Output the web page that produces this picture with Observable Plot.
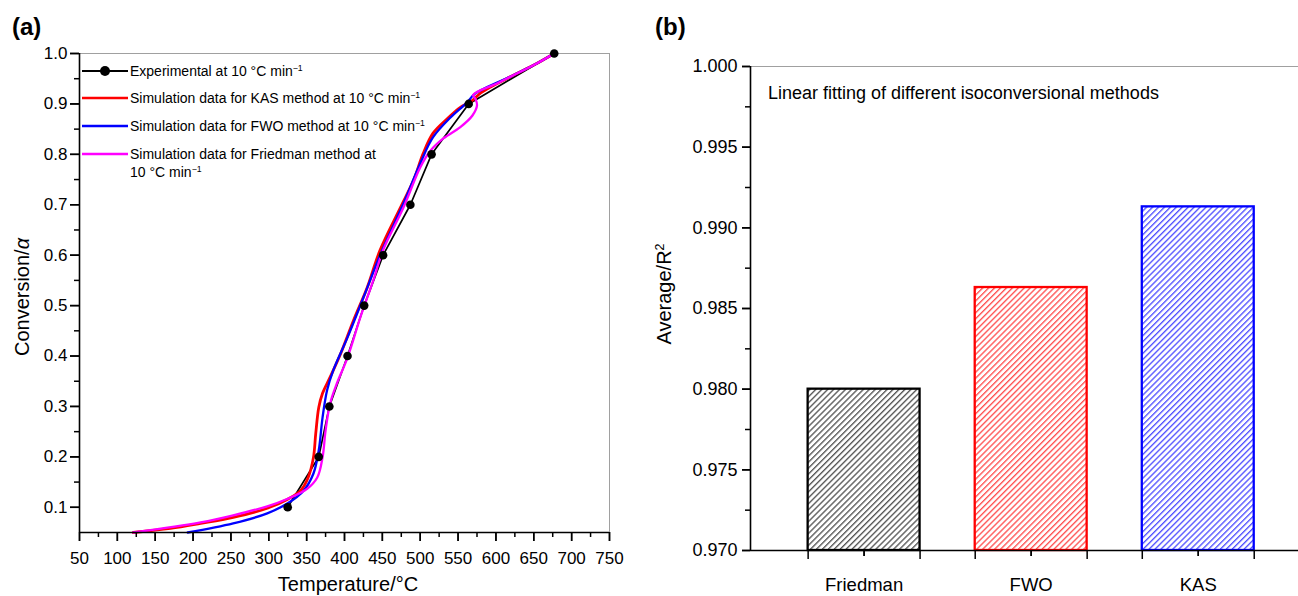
<!DOCTYPE html>
<html>
<head>
<meta charset="utf-8">
<script src="https://cdn.jsdelivr.net/npm/d3@7"></script>
<script src="https://cdn.jsdelivr.net/npm/@observablehq/plot@0.6"></script>
<style>
  html, body { margin: 0; padding: 0; background: #fff; }
  body { font-family: "Liberation Sans", Arial, Helvetica, sans-serif; color: #000; }
  #wrap { position: relative; width: 1298px; height: 596px; overflow: hidden; background: #fff; }
  .panel { position: absolute; top: 0; }
  .panel svg { overflow: visible; }
  .tag { position: absolute; font-weight: bold; font-size: 24px; line-height: 24px; }
  .ttl { position: absolute; white-space: nowrap; font-size: 20px; line-height: 20px; }
  .rot { transform: translate(-50%, -50%) rotate(-90deg); }
  .hcenter { transform: translate(-50%, 0); }
  sup { font-size: 0.62em; line-height: 0; vertical-align: 0.55em; }
  .leg { position: absolute; font-size: 14px; line-height: 18px; white-space: nowrap; }
  .leg svg { position: absolute; left: 0; top: 0; }
  .leg span { position: absolute; left: 48px; top: 0; }
  .note { position: absolute; font-size: 18px; line-height: 18px; white-space: nowrap; }
</style>
</head>
<body>
<div id="wrap">
  <div class="panel" id="pa" style="left:0px;"></div>
  <div class="panel" id="pb" style="left:640px;"></div>
  <div class="tag" style="left:12px;top:15px;">(a)</div>
  <div class="tag" style="left:655px;top:15px;">(b)</div>
  <div class="ttl rot" style="left:22px;top:297px;">Conversion/<i>α</i></div>
  <div class="ttl hcenter" style="left:348px;top:574px;">Temperature/°C</div>
  <div class="ttl rot" style="left:664px;top:294px;">Average/R<sup>2</sup></div>
  <div class="note" style="left:768px;top:84px;">Linear fitting of different isoconversional methods</div>
  <div id="legend"></div>
</div>
<script>
// ---------- Panel (a) data: conversion vs temperature ----------
const expT = [325, 366, 380, 404, 426, 451, 487, 515, 564, 677];
const expA = [0.10, 0.20, 0.30, 0.40, 0.50, 0.60, 0.70, 0.80, 0.90, 1.00];

const kasT = [121, 170, 210, 253, 298, 325, 342, 352, 359, 362, 366, 371, 381, 395, 412, 430, 447, 474, 491, 504, 517, 536, 553, 569, 580, 623, 650, 677];
const kasA = [0.050, 0.058, 0.068, 0.080, 0.098, 0.116, 0.133, 0.159, 0.199, 0.246, 0.298, 0.326, 0.358, 0.405, 0.471, 0.536, 0.610, 0.695, 0.748, 0.802, 0.842, 0.871, 0.893, 0.907, 0.922, 0.957, 0.977, 1.000];

const fwoT = [193, 253, 298, 325, 346, 359, 366, 371, 377, 385, 404, 425, 447, 478, 500, 517, 540, 562, 572, 623, 650, 677];
const fwoA = [0.050, 0.068, 0.088, 0.108, 0.133, 0.167, 0.213, 0.278, 0.332, 0.371, 0.437, 0.516, 0.600, 0.703, 0.782, 0.834, 0.873, 0.903, 0.920, 0.957, 0.977, 1.000];

const friT = [121, 210, 253, 298, 325, 351, 364, 371, 375, 381, 390, 404, 421, 438, 451, 478, 500, 514, 531, 553, 569, 575, 573, 570, 602, 623, 650, 677];
const friA = [0.050, 0.070, 0.084, 0.102, 0.117, 0.137, 0.159, 0.199, 0.252, 0.306, 0.346, 0.397, 0.477, 0.550, 0.610, 0.695, 0.774, 0.808, 0.832, 0.854, 0.877, 0.897, 0.910, 0.918, 0.941, 0.957, 0.977, 1.000];

const xTicksA = [50, 100, 150, 200, 250, 300, 350, 400, 450, 500, 550, 600, 650, 700, 750];
const yTicksA = [0.1, 0.2, 0.3, 0.4, 0.5, 0.6, 0.7, 0.8, 0.9, 1.0];

const legendLabels = [
  "Experimental at 10 °C min<sup>−1</sup>",
  "Simulation data for KAS method at 10 °C min<sup>−1</sup>",
  "Simulation data for FWO method at 10 °C min<sup>−1</sup>",
  "Simulation data for Friedman method at<br>10 °C min<sup>−1</sup>"
];

// ---------- Panel (b) data: average R² ----------
const methods = ["Friedman", "FWO", "KAS"];
const avgR2 = [0.9800, 0.9863, 0.9913];
const yTicksB = [0.970, 0.975, 0.980, 0.985, 0.990, 0.995, 1.000];

// ---------- styles ----------
const FONT = "'Liberation Sans', Arial, Helvetica, sans-serif";
const seriesColor = { exp: "#000000", kas: "#ff0000", fwo: "#0000ff", fri: "#ff00ff" };
const barStroke = ["#000000", "#ff0000", "#0000ff"];
const hatchStroke = ["#404040", "#ff3c3c", "#3c3cff"];

const rows = (T, A) => T.map((t, i) => ({ T: t, A: A[i] }));
const expRows = rows(expT, expA);
const kasRows = rows(kasT, kasA);
const fwoRows = rows(fwoT, fwoA);
const friRows = rows(friT, friA);

const minorX = xTicksA.slice(0, -1).map(v => v + 25);
const minorY = yTicksA.map(v => +(v + 0.05).toFixed(2)).filter(v => v < 1.0);

// panel (a) geometry
const A = { w: 640, h: 596, ml: 79, mr: 31, mt: 53, mb: 64, xd: [50, 750], yd: [0.05, 1.0] };
const kxA = (A.xd[1] - A.xd[0]) / (A.w - A.ml - A.mr);   // data units per pixel (x)
const kyA = (A.yd[1] - A.yd[0]) / (A.h - A.mt - A.mb);   // data units per pixel (y)
const tickRulesX = (vals, len, k, y0) => Plot.ruleX(vals, { y1: () => y0, y2: () => y0 - len * k, stroke: "#000", strokeWidth: 1.5 });
const tickRulesY = (vals, len, k, x0) => Plot.ruleY(vals, { x1: () => x0, x2: () => x0 - len * k, stroke: "#000", strokeWidth: 1.5 });

const plotA = Plot.plot({
  width: A.w, height: A.h,
  marginLeft: A.ml, marginRight: A.mr, marginTop: A.mt, marginBottom: A.mb,
  style: { fontFamily: FONT, fontSize: "17px", background: "transparent", color: "#000" },
  x: { domain: A.xd },
  y: { domain: A.yd },
  marks: [
    Plot.frame({ stroke: "#a0a0a0", strokeWidth: 1 }),
    Plot.line(expRows, { x: "T", y: "A", stroke: seriesColor.exp, strokeWidth: 1.7 }),
    Plot.line(kasRows, { x: "T", y: "A", stroke: seriesColor.kas, strokeWidth: 2.8, curve: "catmull-rom" }),
    Plot.line(fwoRows, { x: "T", y: "A", stroke: seriesColor.fwo, strokeWidth: 2.3, curve: "catmull-rom" }),
    Plot.line(friRows, { x: "T", y: "A", stroke: seriesColor.fri, strokeWidth: 2.3, curve: "catmull-rom" }),
    Plot.dot(expRows, { x: "T", y: "A", r: 4.3, fill: seriesColor.exp, stroke: "none" }),
    Plot.ruleX([A.xd[0]], { stroke: "#000", strokeWidth: 1.6 }),
    Plot.ruleY([A.yd[0]], { stroke: "#000", strokeWidth: 1.6 }),
    tickRulesX(xTicksA, 9, kyA, A.yd[0]),
    tickRulesX(minorX, 5, kyA, A.yd[0]),
    tickRulesY(yTicksA, 9, kxA, A.xd[0]),
    tickRulesY(minorY, 5, kxA, A.xd[0]),
    Plot.axisX(xTicksA, { tickSize: 9, tickPadding: 10, strokeWidth: 1.5, fontSize: 17, tickFormat: d => String(d), label: null }),
    Plot.axisY(yTicksA, { tickSize: 9, tickPadding: 3, strokeWidth: 1.5, fontSize: 17, tickFormat: d3.format(".1f"), label: null })
  ]
});
document.getElementById("pa").appendChild(plotA);

// ---------- Panel (b) ----------
const B = { w: 658, h: 596, ml: 110, mr: 0, mt: 66, mb: 46, xd: [0.32, 3.6], yd: [0.970, 1.000] };
const kxB = (B.xd[1] - B.xd[0]) / (B.w - B.ml - B.mr);
const kyB = (B.yd[1] - B.yd[0]) / (B.h - B.mt - B.mb);
const barHalf = 0.335;
const bars = methods.map((m, i) => ({ method: m, pos: i + 1, value: avgR2[i], idx: i }));
const centerTicks = bars.map(b => b.pos);
const edgeTicks = bars.flatMap(b => [b.pos - barHalf, b.pos + barHalf]);
const minorYB = yTicksB.slice(0, -1).map(v => +(v + 0.0025).toFixed(4));

const plotB = Plot.plot({
  width: B.w, height: B.h,
  marginLeft: B.ml, marginRight: B.mr, marginTop: B.mt, marginBottom: B.mb,
  style: { fontFamily: FONT, fontSize: "18px", background: "transparent", color: "#000" },
  x: { type: "linear", domain: B.xd },
  y: { domain: B.yd },
  color: { type: "identity" },
  marks: [
    Plot.ruleY([B.yd[1]], { stroke: "#a0a0a0", strokeWidth: 1 }),
    Plot.rect(bars, {
      x1: d => d.pos - barHalf, x2: d => d.pos + barHalf,
      y1: () => B.yd[0], y2: "value",
      fill: d => `url(#hatch${d.idx})`,
      stroke: d => barStroke[d.idx], strokeWidth: 2.3
    }),
    Plot.ruleX([B.xd[0]], { stroke: "#000", strokeWidth: 1.6 }),
    Plot.ruleY([B.yd[0]], { stroke: "#000", strokeWidth: 1.6 }),
    tickRulesX(centerTicks, 6, kyB, B.yd[0]),
    tickRulesX(edgeTicks, 9, kyB, B.yd[0]),
    tickRulesY(yTicksB, 8, kxB, B.xd[0]),
    tickRulesY(minorYB, 5, kxB, B.xd[0]),
    Plot.axisX(centerTicks, { tickSize: 6, tickPadding: 21, strokeWidth: 1.5, fontSize: 18.5, tickFormat: d => methods[d - 1], label: null }),
    Plot.axisY(yTicksB, { tickSize: 8, tickPadding: 5, strokeWidth: 1.5, fontSize: 18, tickFormat: d3.format(".3f"), label: null })
  ]
});
const defs = d3.select(plotB).insert("defs", ":first-child");
hatchStroke.forEach((c, i) => {
  const p = defs.append("pattern")
    .attr("id", "hatch" + i)
    .attr("patternUnits", "userSpaceOnUse")
    .attr("width", 4.2).attr("height", 4.2)
    .attr("patternTransform", "rotate(45)");
  p.append("rect").attr("width", 4.2).attr("height", 4.2).attr("fill", "#fff");
  p.append("line").attr("x1", 0.7).attr("y1", 0).attr("x2", 0.7).attr("y2", 4.2)
    .attr("stroke", c).attr("stroke-width", 1.2);
});
document.getElementById("pb").appendChild(plotB);

// ---------- Legend for (a) ----------
const legCenters = [71, 98, 126, 154];
const legColors = [seriesColor.exp, seriesColor.kas, seriesColor.fwo, seriesColor.fri];
const legend = document.getElementById("legend");
legendLabels.forEach((lab, i) => {
  const d = document.createElement("div");
  d.className = "leg";
  d.style.left = "82px";
  d.style.top = (legCenters[i] - 9) + "px";
  const sw = `<svg width="46" height="18"><line x1="0" y1="9" x2="46" y2="9" stroke="${legColors[i]}" stroke-width="${i === 0 ? 2 : 2.6}"/>` +
    (i === 0 ? `<circle cx="23" cy="9" r="5" fill="#000"/>` : "") + `</svg>`;
  d.innerHTML = sw + `<span>${lab}</span>`;
  legend.appendChild(d);
});
</script>
</body>
</html>
